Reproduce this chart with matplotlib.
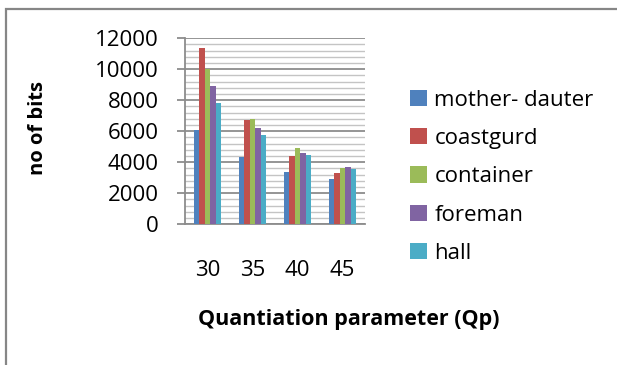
import numpy as np
import matplotlib
matplotlib.use("Agg")
import matplotlib.pyplot as plt
from matplotlib.patches import Rectangle, Patch

plt.rcParams['font.family'] = ['Open Sans', 'DejaVu Sans']

# ---- data ----
qp_values = ["30", "35", "40", "45"]
sequences = ["mother- dauter", "coastgurd", "container", "foreman", "hall"]
bits_mother = [6100, 4370, 3400, 2950]
bits_coast = [11400, 6730, 4430, 3310]
bits_container = [10050, 6800, 4900, 3660]
bits_foreman = [8900, 6190, 4580, 3700]
bits_hall = [7850, 5760, 4470, 3550]
colors = ["#4F81BD", "#C0504D", "#9BBB59", "#8064A2", "#4BACC6"]

all_bits = [bits_mother, bits_coast, bits_container, bits_foreman, bits_hall]

fig = plt.figure(figsize=(6.17, 3.65), dpi=100)
ax = fig.add_axes([0.2998, 0.3855, 0.2918, 0.5096])

x = np.arange(len(qp_values))
w = 0.123
for i, (vals, c) in enumerate(zip(all_bits, colors)):
    ax.bar(x + (i - 2) * w, vals, width=w, color=c, zorder=3)

ax.set_xlim(-0.5, 3.5)
ax.set_ylim(0, 12000)
ax.set_yticks(np.arange(0, 12001, 2000))
ax.set_yticks(np.arange(0, 12001, 400), minor=True)
ax.set_xticks(x)
ax.set_xticklabels(qp_values)

ax.grid(axis="y", which="major", color="#8c8c8c", lw=1.3, zorder=0)
ax.grid(axis="y", which="minor", color="#c4c4c4", lw=1.0, zorder=0)

for s in ["top", "right"]:
    ax.spines[s].set_visible(False)
for s in ["left", "bottom"]:
    ax.spines[s].set_color("#8c8c8c")
    ax.spines[s].set_linewidth(1.3)

ax.tick_params(axis="y", which="major", length=6, color="#8c8c8c", width=1.3,
               labelsize=16, pad=13)
ax.tick_params(axis="y", which="minor", length=0)
ax.tick_params(axis="x", length=0, labelsize=16, pad=25.5)

ax.set_xlabel("Quantiation parameter (Qp)", fontsize=15.5, fontweight="bold")
ax.xaxis.set_label_coords(0.908, -0.457)
ax.set_ylabel("no of bits", fontsize=14.5, fontweight="bold")
ax.yaxis.set_label_coords(-0.761, 0.518)

handles = [Patch(facecolor=c, label=l) for c, l in zip(colors, sequences)]
fig.legend(handles=handles, loc="upper left", bbox_to_anchor=(0.650, 0.779),
           frameon=False, fontsize=16, handlelength=0.75, handleheight=0.75,
           handletextpad=0.35, labelspacing=0.78, borderaxespad=0)

# chart frame
fig.add_artist(Rectangle((6 / 617, -0.2), 1.2, 0.2 + 1 - 9 / 365,
                         transform=fig.transFigure, fill=False,
                         edgecolor="#868686", lw=1.6))

fig.savefig("out.png", dpi=100)
